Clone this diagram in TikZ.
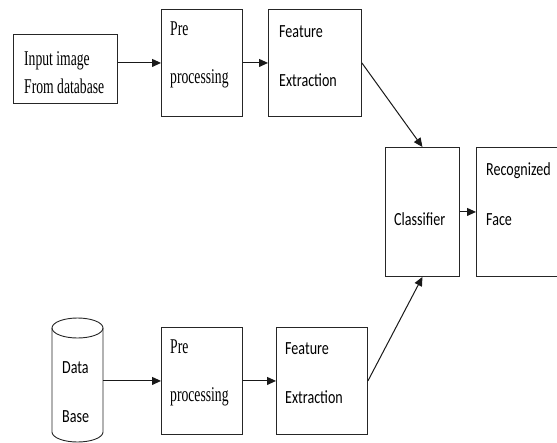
\documentclass[tikz,border=0pt]{standalone}
\usepackage{fontspec}
\setmainfont{Liberation Serif}
\newfontfamily\timesn[FakeStretch=0.65]{Liberation Serif}
\newfontfamily\calib[FakeStretch=0.76]{Carlito}
\usetikzlibrary{arrows.meta}
\tikzset{
  box/.style={draw=black!85, line width=0.9pt, rectangle, anchor=north west, inner sep=0pt},
  conn/.style={draw=black!90, line width=1pt, -{Triangle[length=9pt,width=8pt]}},
  ttext/.style={anchor=base west, inner sep=0pt, font=\timesn\fontsize{21}{25}\selectfont},
  ctext/.style={anchor=base west, inner sep=0pt, font=\calib\fontsize{18.5}{22}\selectfont},
}
\begin{document}
\begin{tikzpicture}[x=1pt,y=-1pt]
\useasboundingbox (0,0) rectangle (557,442);
\clip (0,0) rectangle (557,442);
% boxes
\node[box, minimum width=104pt, minimum height=69pt] (inp) at (13,34) {};
\node[box, minimum width=81pt, minimum height=107pt] (pre1) at (161,9) {};
\node[box, minimum width=93pt, minimum height=107pt] (fe1) at (268,9) {};
\node[box, minimum width=74pt, minimum height=129pt] (cls) at (385,147) {};
\node[box, minimum width=94pt, minimum height=129pt] (rec) at (476,147) {};
\node[box, minimum width=81pt, minimum height=107pt] (pre2) at (161,327) {};
\node[box, minimum width=91pt, minimum height=107pt] (fe2) at (276,327) {};
% database cylinder
\node[anchor=north west, inner sep=0pt, minimum width=51pt, minimum height=114pt] (db) at (52,318) {};
\draw[draw=black!85, line width=0.9pt] (77.5,328) ellipse[x radius=25.5pt, y radius=10pt];
\draw[draw=black!85, line width=0.9pt] (52,328) -- (52,432) arc[start angle=180, end angle=360, x radius=25.5pt, y radius=10pt] -- (103,328);
% texts
\node[ttext] (t1) at (24,65) {Input image};
\node[ttext] (t2) at (24,93) {From database};
\node[ttext] (t3) at (170,35) {Pre};
\node[ttext] (t4) at (170,83) {processing};
\node[ctext] (t5) at (279,37) {Feature};
\node[ctext] (t6) at (279,86) {Extraction};
\node[ctext] (t7) at (394,225) {Classifier};
\node[ctext] (t8) at (486,175) {Recognized};
\node[ctext] (t9) at (486,225) {Face};
\node[ctext] (t10) at (62,373) {Data};
\node[ctext] (t11) at (62,422) {Base};
\node[ttext] (t12) at (170,353) {Pre};
\node[ttext] (t13) at (170,401) {processing};
\node[ctext] (t14) at (285,354) {Feature};
\node[ctext] (t15) at (285,403) {Extraction};
% connectors
\draw[conn] (inp.east |- pre1.west) -- (pre1.west);
\draw[conn] (pre1.east) -- (fe1.west);
\draw[conn] (fe1.east) -- (cls.north);
\draw[conn] (fe2.east) -- (cls.south);
\draw[conn] (cls.east) -- (rec.west);
\draw[conn] (db.east |- pre2.west) -- (pre2.west);
\draw[conn] (pre2.east) -- (fe2.west);
\end{tikzpicture}
\end{document}
